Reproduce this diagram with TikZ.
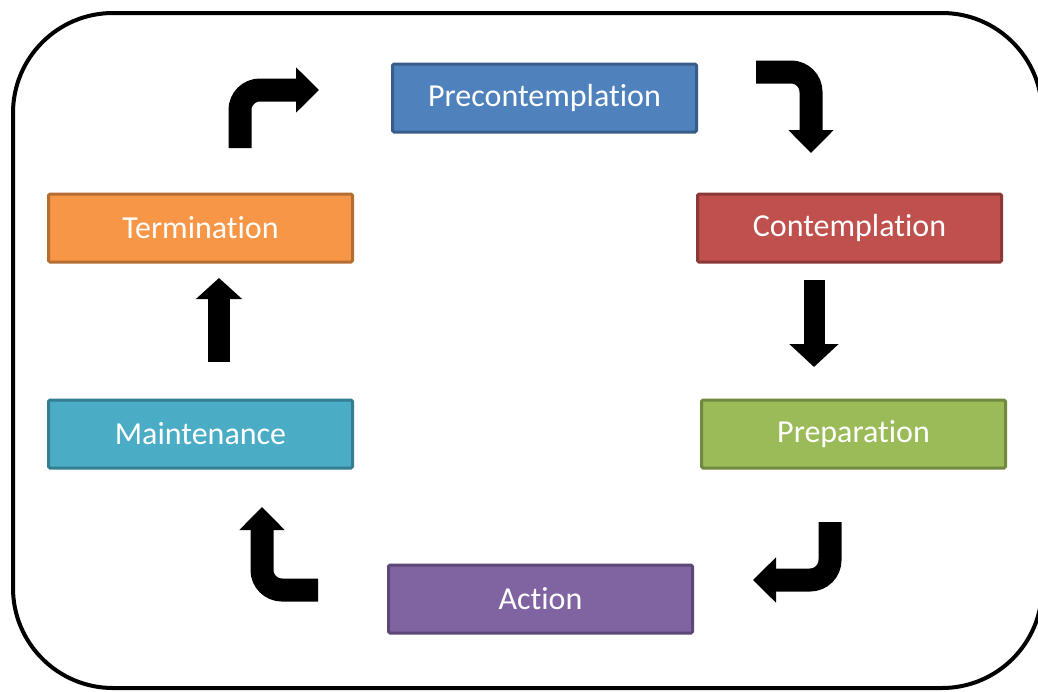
\documentclass[tikz,border=0pt]{standalone}
\usepackage{fontspec}
\setmainfont{Carlito}[Ligatures={NoCommon,NoRare}]
\usetikzlibrary{arrows.meta}
\definecolor{cBlue}{HTML}{4F81BD}\definecolor{bBlue}{HTML}{385D8A}
\definecolor{cRed}{HTML}{C0504D}\definecolor{bRed}{HTML}{8C3836}
\definecolor{cGreen}{HTML}{9BBB59}\definecolor{bGreen}{HTML}{71893F}
\definecolor{cPurple}{HTML}{8064A2}\definecolor{bPurple}{HTML}{5C4776}
\definecolor{cAqua}{HTML}{4BACC6}\definecolor{bAqua}{HTML}{357D91}
\definecolor{cOrange}{HTML}{F79646}\definecolor{bOrange}{HTML}{B66D31}
\tikzset{
  stage/.style={line width=3pt, rounded corners=1.5pt,
    minimum width=304pt, minimum height=68pt, inner sep=0pt,
    text=white, font=\fontsize{32}{36}\selectfont},
  bigarrow/.style={line width=23pt, rounded corners=20pt, black,
    -{Triangle[width=44pt,length=23pt]}},
}
\begin{document}
\begin{tikzpicture}[x=1pt,y=-1pt]
\useasboundingbox (0,0) rectangle (1038,691);
\draw[line width=4pt, rounded corners=100pt] (13,13) rectangle (1042,688);
\node[stage, fill=cBlue, draw=bBlue] (pre) at (544.5,98) {Precontemplation};
\node[stage, fill=cRed, draw=bRed] (con) at (849.5,228) {Contemplation};
\node[stage, fill=cGreen, draw=bGreen] (prep) at (853.5,434) {Preparation};
\node[stage, fill=cPurple, draw=bPurple] (act) at (540.5,599) {Action};
\node[stage, fill=cAqua, draw=bAqua] (main) at (200.5,434) {Maintenance};
\node[stage, fill=cOrange, draw=bOrange] (term) at (200.5,228) {Termination};
% arrow coordinates
\coordinate (a1s) at (240,148); \coordinate (a1e) at (319,90);
\coordinate (a2s) at (756,72);  \coordinate (a2e) at (811,153);
\coordinate (a3s) at (814,280); \coordinate (a3e) at (814,367);
\coordinate (a4s) at (830,522); \coordinate (a4e) at (753,580);
\coordinate (a5s) at (318,590); \coordinate (a5e) at (262,507);
\coordinate (a6s) at (219,362); \coordinate (a6e) at (219,278);
\draw[bigarrow] (a1s) |- (a1e);
\draw[bigarrow] (a2s) -| (a2e);
\draw[bigarrow, line width=21pt, -{Triangle[width=48pt,length=23pt]}] (a3s) -- (a3e);
\draw[bigarrow] (a4s) |- (a4e);
\draw[bigarrow] (a5s) -| (a5e);
\draw[bigarrow, line width=22pt, -{Triangle[width=45pt,length=21pt]}] (a6s) -- (a6e);
\end{tikzpicture}
\end{document}
